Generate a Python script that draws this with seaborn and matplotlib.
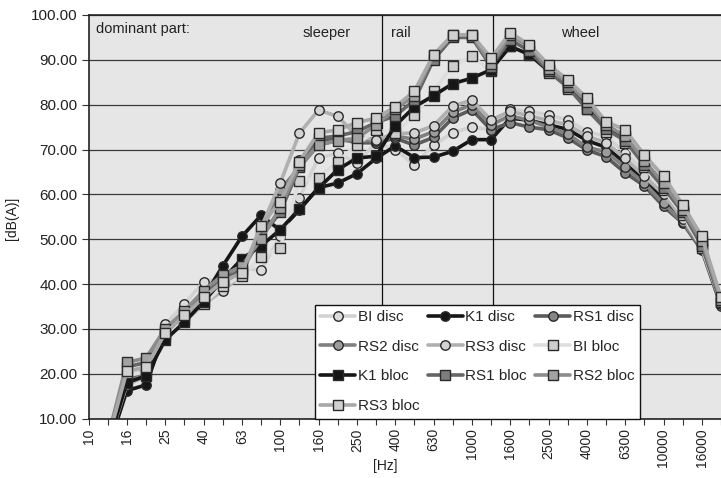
import numpy as np
import pandas as pd
import matplotlib
matplotlib.use("Agg")
import matplotlib.pyplot as plt
import seaborn as sns

# ---------------- data ----------------
freq_labels = ["10", "12.5", "16", "20", "25", "31.5", "40", "50", "63", "80", "100", "125",
               "160", "200", "250", "315", "400", "500", "630", "800", "1000", "1250",
               "1600", "2000", "2500", "3150", "4000", "5000", "6300", "8000", "10000",
               "12500", "16000", "20000"]

# values from 12.5 Hz to 20000 Hz (10 Hz band has no visible data)
bi_disc = [4, 19, 21.5, 31, 35.5, 40.5, 41.5, 43.5, 43.1, 50.6, 59.2, 68.1, 69.2, 67, 71.5,
           70, 66.6, 71, 73.7, 75, 74.4, 79, 78.5, 77.7, 76.6, 74, 72.9, 69.3, 65.1, 61, 55, 49, 36]
k1_disc = [3, 16.2, 17.5, 29.5, 32, 37, 44, 50.6, 55.3, 52, 56.5, 61.5, 62.5, 64.6, 68,
           70.8, 68.2, 68.3, 69.6, 72.2, 72.2, 77, 76.5, 75.5, 74.5, 72, 70.5, 67, 63, 59, 54, 48.5, 35.5]
rs1_disc = [4.5, 18.5, 21, 30, 33.5, 38, 40.5, 43, 50.5, 56, 67.7, 72, 72.5, 71.5, 71.5,
            72.5, 71, 72.7, 77, 78.9, 74.4, 76, 75, 74.4, 72.6, 69.9, 68.4, 64.8, 61.9, 57.3, 53.6, 47.5, 35]
rs2_disc = [4.5, 18, 20, 29.5, 32, 36.5, 39.5, 42.5, 51.5, 61, 66, 71, 72, 72, 72,
            73, 72.3, 74, 78.3, 80, 75.5, 77.5, 76.5, 75, 73.5, 70.5, 69.5, 66, 62.5, 58, 53.8, 48, 35.5]
rs3_disc = [4, 17.5, 19.5, 29, 31.5, 35.5, 38.5, 42, 52.5, 62.5, 73.6, 78.8, 77.4, 73, 72.2,
            73.5, 73.7, 75.3, 79.7, 81, 76.6, 78.5, 77.5, 76.5, 75.5, 73, 71.5, 68, 64, 60, 54.5, 48.5, 36]
bi_bloc = [5, 19.5, 20.5, 28.5, 32, 35.5, 39.5, 41.8, 46, 48, 63, 63.7, 67.3, 71, 74.4,
           73.7, 77.7, 83, 88.7, 90.8, 87.5, 93, 91, 87, 83.5, 79, 74, 71.5, 66, 61, 55.5, 48, 36]
k1_bloc = [4, 18, 19.5, 27.5, 31.5, 36, 41, 45.6, 48.5, 52.1, 56.7, 61.4, 65.5, 68.1, 68.5,
           75.3, 79.5, 82, 84.7, 85.9, 87.8, 93, 91.2, 87.5, 84, 80, 75, 72.5, 67, 62, 56, 49, 36]
rs1_bloc = [5, 21.5, 22.5, 29.5, 33.5, 37.5, 41, 43.2, 51.5, 56, 66, 72.5, 73, 74, 76,
            77.5, 81, 90, 95, 95, 88.5, 94.5, 92, 87.5, 84, 79, 74.5, 72, 66.5, 61.5, 56, 48.5, 36]
rs2_bloc = [5.5, 22.5, 23.5, 30, 34, 38.5, 42, 44, 50, 57, 66.5, 71, 72, 72.5, 75.5,
            79, 82, 91, 95.5, 95.5, 89, 95.5, 93, 88, 85, 80.5, 75.5, 73, 67.5, 62.5, 56.5, 49.5, 36.5]
rs3_bloc = [5, 20.5, 21.5, 29, 33, 37, 40.5, 42.5, 53, 58.4, 67.3, 73.7, 74.4, 76, 77,
            79.5, 83, 91.1, 95.6, 95.6, 90.4, 96, 93.4, 88.9, 85.6, 81.5, 76.2, 74.4, 68.8, 64, 57.7, 50.6, 37]

series_names = ["BI disc", "K1 disc", "RS1 disc", "RS2 disc", "RS3 disc",
                "BI bloc", "K1 bloc", "RS1 bloc", "RS2 bloc", "RS3 bloc"]
series_values = [bi_disc, k1_disc, rs1_disc, rs2_disc, rs3_disc,
                 bi_bloc, k1_bloc, rs1_bloc, rs2_bloc, rs3_bloc]

zone_labels = ["sleeper", "rail", "wheel"]

# ---------------- styles ----------------
styles = {
    "BI disc":  dict(color="#d2d2d2", marker="o", mfc="#dcdcdc"),
    "K1 disc":  dict(color="#161616", marker="o", mfc="#161616"),
    "RS1 disc": dict(color="#5c5c5c", marker="o", mfc="#858585"),
    "RS2 disc": dict(color="#808080", marker="o", mfc="#9c9c9c"),
    "RS3 disc": dict(color="#b0b0b0", marker="o", mfc="#d3d3d3"),
    "BI bloc":  dict(color="#dedede", marker="s", mfc="#cdcdcd"),
    "K1 bloc":  dict(color="#161616", marker="s", mfc="#161616"),
    "RS1 bloc": dict(color="#666666", marker="s", mfc="#7d7d7d"),
    "RS2 bloc": dict(color="#8c8c8c", marker="s", mfc="#a2a2a2"),
    "RS3 bloc": dict(color="#a8a8a8", marker="s", mfc="#d0d0d0"),
}

sns.set_theme(style="white")
plt.rcParams["font.family"] = ["Liberation Sans", "DejaVu Sans"]

fig = plt.figure(figsize=(7.21, 4.78), dpi=100)
ax = fig.add_axes([88.5 / 721, (478 - 418.5) / 478, (721 - 88.5) / 721, (418.5 - 15) / 478])
ax.set_facecolor("#e6e6e6")

positions = np.arange(1, len(freq_labels))
handles = {}
for name, vals in zip(series_names, series_values):
    st = styles[name]
    df = pd.DataFrame({"pos": positions, "val": vals})
    sns.lineplot(data=df, x="pos", y="val", ax=ax, sort=False, estimator=None,
                 color=st["color"], linewidth=2.6, marker=st["marker"],
                 markersize=6.8 if st["marker"] == "o" else 7.0,
                 markerfacecolor=st["mfc"], markeredgecolor="#2a2a2a",
                 markeredgewidth=1.0, label=name, legend=False)
    handles[name] = ax.lines[-1]

ax.set_xlim(0, (721 - 88.5) / 19.35)
ax.set_ylim(10, 100)

# y axis
yt = np.arange(10, 101, 10)
ax.set_yticks(yt)
ax.set_yticklabels([f"{v:.2f}" for v in yt], fontsize=11, color="#222222")
ax.yaxis.grid(True, color="#3a3a3a", linewidth=0.9)
ax.set_axisbelow(True)

# x axis
ax.set_xticks(np.arange(0, len(freq_labels), 2))
ax.set_xticklabels(freq_labels[::2], rotation=90, fontsize=10, color="#222222")
ax.set_xticks(np.arange(0, len(freq_labels)), minor=True)
ax.tick_params(axis="x", which="both", direction="out", length=4, width=0.8,
               color="#333333", bottom=True, pad=3)
ax.tick_params(axis="y", direction="out", length=5, width=0.8, color="#333333", left=True, pad=3)
ax.set_xlabel("")
ax.set_ylabel("")

for side in ["left", "bottom", "top"]:
    ax.spines[side].set_visible(True)
    ax.spines[side].set_color("#222222")
    ax.spines[side].set_linewidth(1.2)
ax.spines["right"].set_visible(False)

# zone separators
ax.axvline(15.3, color="#111111", linewidth=0.9, zorder=1.5)
ax.axvline(21.1, color="#111111", linewidth=0.9, zorder=1.5)

ax.text(0.39, 96.9, "dominant part:", fontsize=10.5, color="#222222", va="center", ha="left")
ax.text(12.43, 96.0, zone_labels[0], fontsize=10.5, color="#222222", va="center", ha="center")
ax.text(16.28, 96.0, zone_labels[1], fontsize=10.5, color="#222222", va="center", ha="center")
ax.text(25.63, 96.0, zone_labels[2], fontsize=10.5, color="#222222", va="center", ha="center")

fig.text(12 / 721, 1 - 218 / 478, "[dB(A)]", rotation=90, fontsize=10, color="#222222",
         ha="center", va="center")
fig.text(385 / 721, 1 - 466 / 478, "[Hz]", fontsize=10, color="#222222", ha="center", va="center")

order = ["BI disc", "RS2 disc", "K1 bloc", "RS3 bloc",
         "K1 disc", "RS3 disc", "RS1 bloc",
         "RS1 disc", "BI bloc", "RS2 bloc"]
leg = ax.legend([handles[n] for n in order], order, ncol=3, loc="lower left",
                bbox_to_anchor=((315 - 88.5) / (721 - 88.5), 0.0), fontsize=11,
                frameon=True, fancybox=False, framealpha=1, edgecolor="#111111",
                handlelength=2.3, handletextpad=0.15, columnspacing=0.55,
                labelspacing=1.03, borderpad=0.35, borderaxespad=0.0)
leg.get_frame().set_linewidth(1.0)
leg.set_zorder(5)

fig.savefig("out.png", dpi=100)
